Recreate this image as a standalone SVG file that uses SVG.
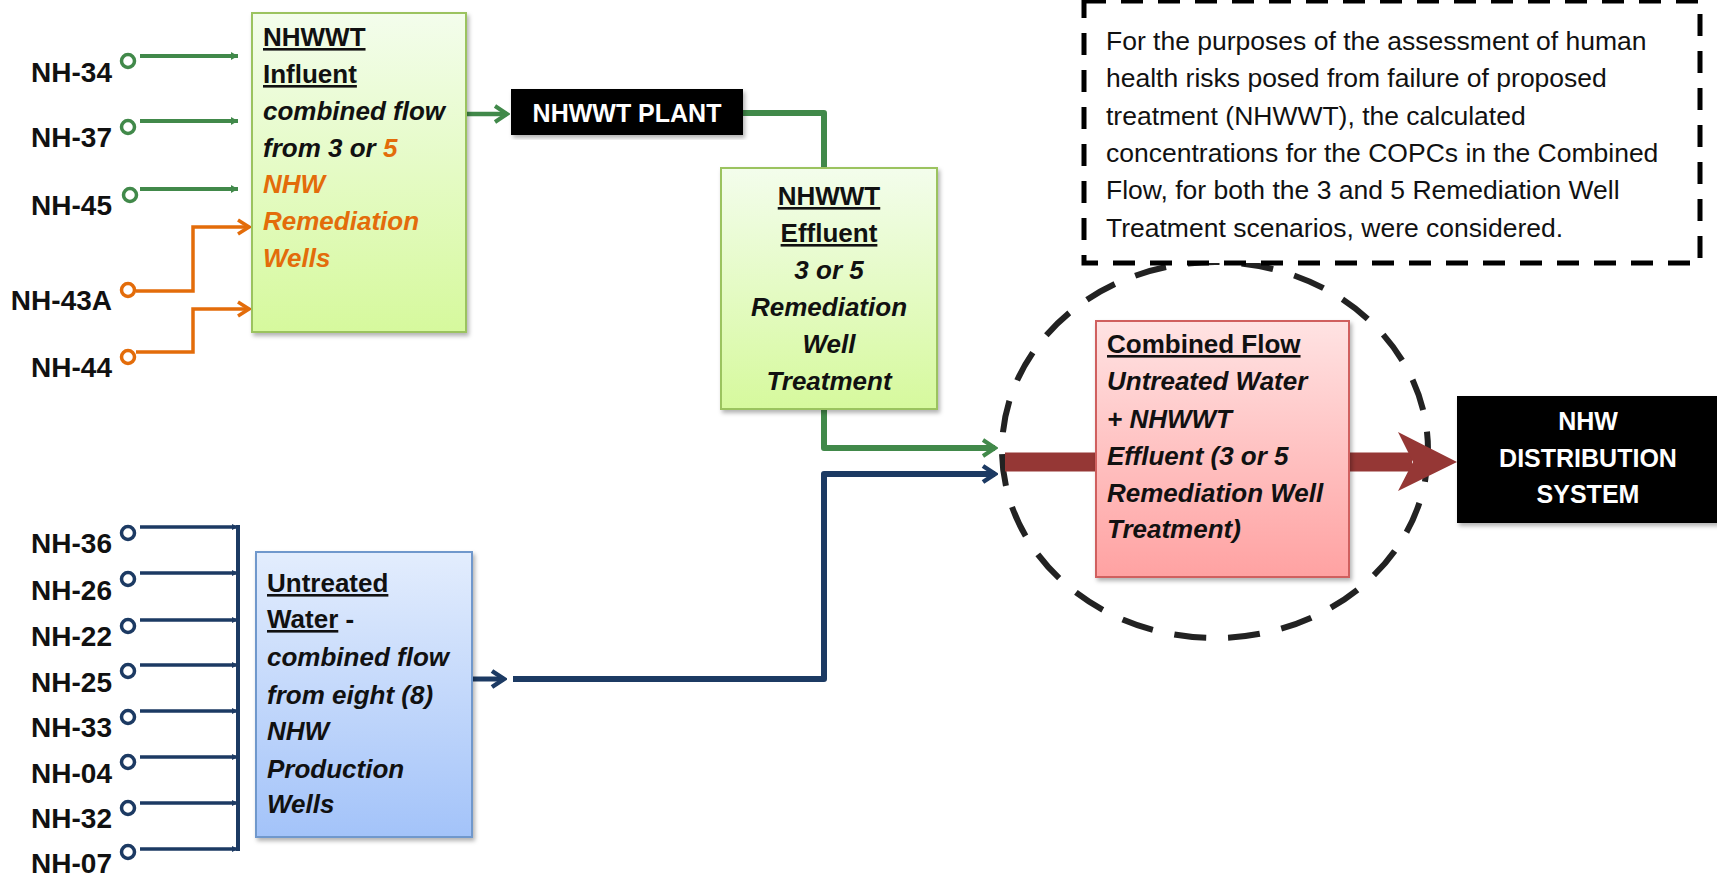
<svg xmlns="http://www.w3.org/2000/svg" width="1717" height="878" viewBox="0 0 1717 878">
<style>
  .lbl{font-family:"Liberation Sans",Arial,sans-serif;font-weight:bold;font-size:28px;fill:#111;text-anchor:end}
  .bx{font-family:"Liberation Sans",Arial,sans-serif;font-weight:bold;font-size:26px;fill:#111}
  .it{font-style:italic}
  .ul{text-decoration:underline}
  .or{fill:#e36c0a}
  .wt{font-family:"Liberation Sans",Arial,sans-serif;font-weight:bold;font-size:25px;fill:#fff;text-anchor:middle}
  .note{font-family:"Liberation Sans",Arial,sans-serif;font-size:26.5px;fill:#111}
  .gl{stroke:#41894a;fill:none}
  .ol{stroke:#e36c0a;fill:none;stroke-width:3.5}
  .bl{stroke:#1c3a63;fill:none}
  .wellG{fill:#fff;stroke:#41894a;stroke-width:3.5}
  .wellO{fill:#fff;stroke:#e36c0a;stroke-width:3.5}
  .wellB{fill:#fff;stroke:#1c3a63;stroke-width:3.5}
</style>
<defs>
  <linearGradient id="gGreen" x1="0" y1="0" x2="0" y2="1">
    <stop offset="0" stop-color="#f3fdec"/><stop offset="1" stop-color="#d6f99d"/>
  </linearGradient>
  <linearGradient id="gBlue" x1="0" y1="0" x2="0" y2="1">
    <stop offset="0" stop-color="#e3edfd"/><stop offset="1" stop-color="#a3c3f9"/>
  </linearGradient>
  <linearGradient id="gRed" x1="0" y1="0" x2="0" y2="1">
    <stop offset="0" stop-color="#ffe3e3"/><stop offset="1" stop-color="#ffa2a2"/>
  </linearGradient>
  <filter id="sh" x="-10%" y="-10%" width="120%" height="120%">
    <feDropShadow dx="2" dy="3" stdDeviation="2" flood-color="#000" flood-opacity="0.3"/>
  </filter>
  <marker id="chG" markerUnits="userSpaceOnUse" viewBox="0 0 20 20" markerWidth="20" markerHeight="20" refX="17" refY="10" orient="auto">
    <path d="M5,2 L17,10 L5,18" fill="none" stroke="#41894a" stroke-width="4"/>
  </marker>
  <marker id="chO" markerUnits="userSpaceOnUse" viewBox="0 0 20 20" markerWidth="20" markerHeight="20" refX="17" refY="10" orient="auto">
    <path d="M6,3 L17,10 L6,17" fill="none" stroke="#e36c0a" stroke-width="3.5"/>
  </marker>
  <marker id="chB" markerUnits="userSpaceOnUse" viewBox="0 0 20 20" markerWidth="20" markerHeight="20" refX="17" refY="10" orient="auto">
    <path d="M5,2 L17,10 L5,18" fill="none" stroke="#1c3a63" stroke-width="4.5"/>
  </marker>
  <marker id="smG" markerUnits="userSpaceOnUse" viewBox="0 0 10 10" markerWidth="10" markerHeight="10" refX="9" refY="5" orient="auto">
    <path d="M2,1 L9,5 L2,9 Z" fill="#41894a"/>
  </marker>
  <marker id="smB" markerUnits="userSpaceOnUse" viewBox="0 0 10 10" markerWidth="10" markerHeight="10" refX="9" refY="5" orient="auto">
    <path d="M3,2 L9,5 L3,8 Z" fill="#1c3a63"/>
  </marker>
</defs>

<g id="highlight">
  <ellipse cx="1215" cy="450" rx="213" ry="188" fill="none" stroke="#222" stroke-width="6" stroke-dasharray="32 22"/>
</g>

<g id="connectors">
  <path class="gl" stroke-width="4" d="M140,56 H238" marker-end="url(#smG)"/>
  <path class="gl" stroke-width="4" d="M140,121 H238" marker-end="url(#smG)"/>
  <path class="gl" stroke-width="4" d="M140,189 H238" marker-end="url(#smG)"/>
  <path class="ol" d="M136,291 H193 V227 H249" marker-end="url(#chO)"/>
  <path class="ol" d="M136,352 H193 V309 H249" marker-end="url(#chO)"/>
  <path class="gl" stroke-width="4.5" d="M467,114 H507" marker-end="url(#chG)"/>
  <path class="gl" stroke-width="6" stroke-linejoin="round" d="M743,113 H824 V168"/>
  <path class="gl" stroke-width="6" stroke-linejoin="round" d="M824,409 V448 H995" marker-end="url(#chG)"/>
  <g class="bl" stroke-width="3.5">
    <path d="M140,527 H238" marker-end="url(#smB)"/>
    <path d="M140,573 H238" marker-end="url(#smB)"/>
    <path d="M140,620 H238" marker-end="url(#smB)"/>
    <path d="M140,665 H238" marker-end="url(#smB)"/>
    <path d="M140,711 H238" marker-end="url(#smB)"/>
    <path d="M140,757 H238" marker-end="url(#smB)"/>
    <path d="M140,803 H238" marker-end="url(#smB)"/>
    <path d="M140,849 H238" marker-end="url(#smB)"/>
    <path d="M238,525 V851" stroke-width="4"/>
  </g>
  <path class="bl" stroke-width="5" d="M472,679 H504" marker-end="url(#chB)"/>
  <path class="bl" stroke-width="6" stroke-linejoin="round" d="M513,679 H824 V474 H995" marker-end="url(#chB)"/>
  <path d="M1005,462 H1097" stroke="#953735" stroke-width="19" fill="none"/>
  <path d="M1348,462 H1412" stroke="#953735" stroke-width="19" fill="none"/>
  <path d="M1398,432 L1457,462 L1398,491 L1413,462 Z" fill="#953735"/>
</g>

<g id="well-NH-34"><circle class="wellG" cx="128" cy="61" r="6.5"/><text class="lbl" x="112" y="82">NH-34</text></g>
<g id="well-NH-37"><circle class="wellG" cx="128" cy="127" r="6.5"/><text class="lbl" x="112" y="147">NH-37</text></g>
<g id="well-NH-45"><circle class="wellG" cx="130" cy="195" r="6.5"/><text class="lbl" x="112" y="215">NH-45</text></g>
<g id="well-NH-43A"><circle class="wellO" cx="128" cy="290" r="6.5"/><text class="lbl" x="112" y="310">NH-43A</text></g>
<g id="well-NH-44"><circle class="wellO" cx="128" cy="357" r="6.5"/><text class="lbl" x="112" y="377">NH-44</text></g>

<g id="well-NH-36"><circle class="wellB" cx="128" cy="533" r="6.5"/><text class="lbl" x="112" y="553">NH-36</text></g>
<g id="well-NH-26"><circle class="wellB" cx="128" cy="579" r="6.5"/><text class="lbl" x="112" y="600">NH-26</text></g>
<g id="well-NH-22"><circle class="wellB" cx="128" cy="626" r="6.5"/><text class="lbl" x="112" y="646">NH-22</text></g>
<g id="well-NH-25"><circle class="wellB" cx="128" cy="671" r="6.5"/><text class="lbl" x="112" y="692">NH-25</text></g>
<g id="well-NH-33"><circle class="wellB" cx="128" cy="717" r="6.5"/><text class="lbl" x="112" y="737">NH-33</text></g>
<g id="well-NH-04"><circle class="wellB" cx="128" cy="762" r="6.5"/><text class="lbl" x="112" y="783">NH-04</text></g>
<g id="well-NH-32"><circle class="wellB" cx="128" cy="808" r="6.5"/><text class="lbl" x="112" y="828">NH-32</text></g>
<g id="well-NH-07"><circle class="wellB" cx="128" cy="852" r="6.5"/><text class="lbl" x="112" y="873">NH-07</text></g>

<g id="influent">
  <rect x="252" y="13" width="214" height="319" fill="url(#gGreen)" stroke="#9bc35f" stroke-width="2" filter="url(#sh)"/>
  <text class="bx ul" x="263" y="46">NHWWT</text>
  <text class="bx ul" x="263" y="83">Influent</text>
  <text class="bx it" x="263" y="120">combined flow</text>
  <text class="bx it" x="263" y="157">from 3 or <tspan class="or">5</tspan></text>
  <text class="bx it or" x="263" y="193">NHW</text>
  <text class="bx it or" x="263" y="230">Remediation</text>
  <text class="bx it or" x="263" y="267">Wells</text>
</g>

<g id="plant">
  <rect x="511" y="89" width="232" height="46" fill="#000" filter="url(#sh)"/>
  <text class="wt" x="627" y="122" font-size="26">NHWWT PLANT</text>
</g>

<g id="effluent">
  <rect x="721" y="168" width="216" height="241" fill="url(#gGreen)" stroke="#9bc35f" stroke-width="2" filter="url(#sh)"/>
  <text class="bx ul" x="829" y="205" text-anchor="middle">NHWWT</text>
  <text class="bx ul" x="829" y="242" text-anchor="middle">Effluent</text>
  <text class="bx it" x="829" y="279" text-anchor="middle">3 or 5</text>
  <text class="bx it" x="829" y="316" text-anchor="middle">Remediation</text>
  <text class="bx it" x="829" y="353" text-anchor="middle">Well</text>
  <text class="bx it" x="829" y="390" text-anchor="middle">Treatment</text>
</g>

<g id="untreated">
  <rect x="256" y="552" width="216" height="285" fill="url(#gBlue)" stroke="#6f98cc" stroke-width="2" filter="url(#sh)"/>
  <text class="bx ul" x="267" y="592">Untreated</text>
  <text class="bx" x="267" y="628"><tspan class="ul">Water</tspan> -</text>
  <text class="bx it" x="267" y="666">combined flow</text>
  <text class="bx it" x="267" y="704">from eight (8)</text>
  <text class="bx it" x="267" y="740">NHW</text>
  <text class="bx it" x="267" y="778">Production</text>
  <text class="bx it" x="267" y="813">Wells</text>
</g>

<g id="combined">
  <rect x="1096" y="321" width="253" height="256" fill="url(#gRed)" stroke="#d0605e" stroke-width="2" filter="url(#sh)"/>
  <text class="bx ul" x="1107" y="353">Combined Flow</text>
  <text class="bx it" x="1107" y="390">Untreated Water</text>
  <text class="bx it" x="1107" y="428">+ NHWWT</text>
  <text class="bx it" x="1107" y="465">Effluent (3 or 5</text>
  <text class="bx it" x="1107" y="502">Remediation Well</text>
  <text class="bx it" x="1107" y="538">Treatment)</text>
</g>

<g id="distribution">
  <rect x="1457" y="396" width="262" height="127" fill="#000" filter="url(#sh)"/>
  <text class="wt" x="1588" y="430">NHW</text>
  <text class="wt" x="1588" y="467">DISTRIBUTION</text>
  <text class="wt" x="1588" y="503">SYSTEM</text>
</g>

<g id="note">
  <rect x="1084" y="1" width="616" height="262" fill="#fff" stroke="#000" stroke-width="5" stroke-dasharray="22 15"/>
  <text class="note" x="1106" y="50">For the purposes of the assessment of human</text>
  <text class="note" x="1106" y="87">health risks posed from failure of proposed</text>
  <text class="note" x="1106" y="125">treatment (NHWWT), the calculated</text>
  <text class="note" x="1106" y="162">concentrations for the COPCs in the Combined</text>
  <text class="note" x="1106" y="199">Flow, for both the 3 and 5 Remediation Well</text>
  <text class="note" x="1106" y="237">Treatment scenarios, were considered.</text>
</g>
</svg>
